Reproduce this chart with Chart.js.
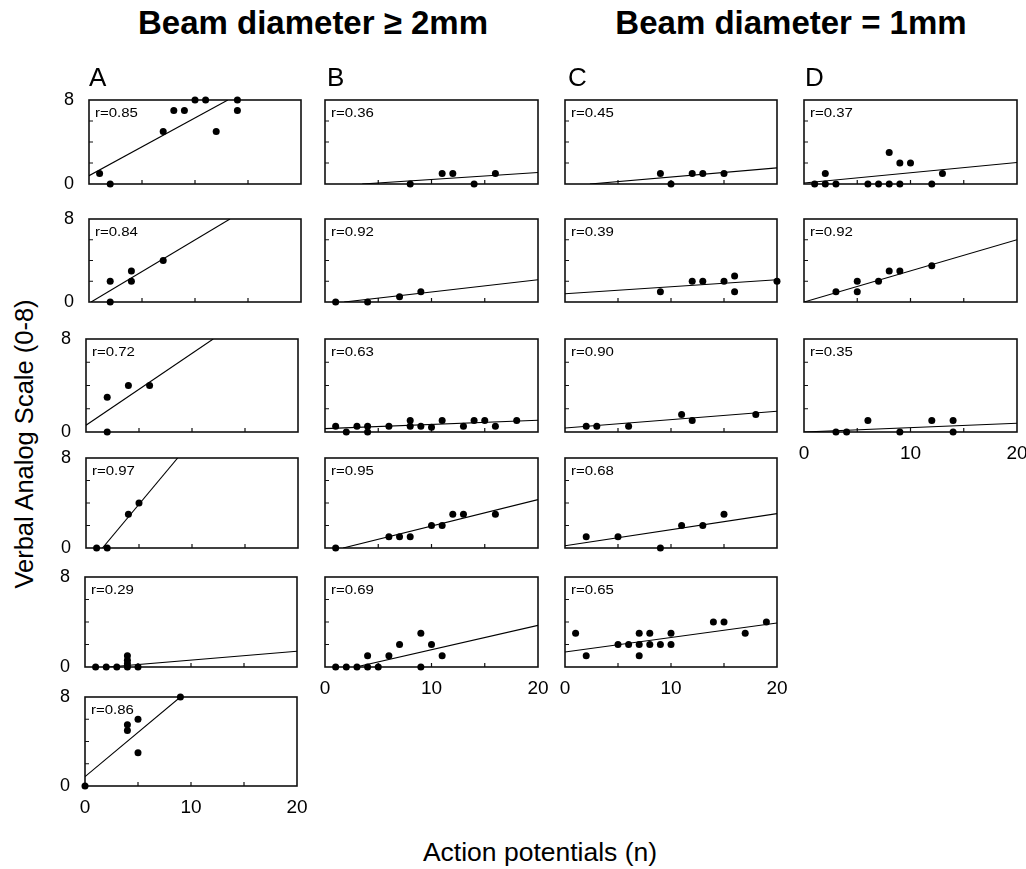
<!DOCTYPE html>
<html><head><meta charset="utf-8">
<script src="https://cdn.jsdelivr.net/npm/chart.js@4.4.1/dist/chart.umd.min.js"></script>
<style>
html,body{margin:0;padding:0;background:#fff;}
#root{position:relative;width:1026px;height:869px;overflow:hidden;background:#fff;font-family:"Liberation Sans",Arial,Helvetica,sans-serif;color:#000;}
.t{position:absolute;white-space:nowrap;line-height:1;}
canvas{position:absolute;}
</style></head><body><div id="root"></div>
<script>
// ---------- tick values ----------
const xTicks = [0, 10, 20];
const yTicks = [0, 8];
const xMinor = [5, 10, 15];
const yMinor = [2, 4, 6];

// ---------- column titles / labels ----------
const groupTitles = ['Beam diameter \u2265 2mm', 'Beam diameter = 1mm'];
const columnLetters = ['A', 'B', 'C', 'D'];
const yTitle = 'Verbal Analog Scale (0-8)';
const xTitle = 'Action potentials (n)';

// ---------- correlation labels ----------
const A_r = ['r=0.85', 'r=0.84', 'r=0.72', 'r=0.97', 'r=0.29', 'r=0.86'];
const B_r = ['r=0.36', 'r=0.92', 'r=0.63', 'r=0.95', 'r=0.69'];
const C_r = ['r=0.45', 'r=0.39', 'r=0.90', 'r=0.68', 'r=0.65'];
const D_r = ['r=0.37', 'r=0.92', 'r=0.35'];

// ---------- data (action potentials x, VAS y) and fitted lines ----------
const A1_x = [1, 2, 7, 8, 9, 10, 11, 12, 14, 14];
const A1_y = [1, 0, 5, 7, 7, 8, 8, 5, 8, 7];
const A1_fitX = [0, 13.1], A1_fitY = [0.79, 8];

const A2_x = [2, 2, 4, 4, 7];
const A2_y = [2, 0, 3, 2, 4];
const A2_fitX = [0.2, 13.3], A2_fitY = [0, 8];

const A3_x = [2, 2, 4, 6];
const A3_y = [3, 0, 4, 4];
const A3_fitX = [0, 12], A3_fitY = [0.58, 8];

const A4_x = [1, 2, 4, 5];
const A4_y = [0, 0, 3, 4];
const A4_fitX = [1.55, 8.65], A4_fitY = [0, 8];

const A5_x = [1, 2, 3, 4, 5, 4, 4, 4];
const A5_y = [0, 0, 0, 0, 0, 1, 0.6, 0.3];
const A5_fitX = [2.2, 20], A5_fitY = [0, 1.4];

const A6_x = [0, 4, 4, 5, 5, 9];
const A6_y = [0, 5.5, 5, 6, 3, 8];
const A6_fitX = [0, 9], A6_fitY = [0.84, 8];

const B1_x = [8, 11, 12, 14, 16];
const B1_y = [0, 1, 1, 0, 1];
const B1_fitX = [3.5, 20], B1_fitY = [0, 1.1];

const B2_x = [1, 4, 7, 9];
const B2_y = [0, 0, 0.5, 1];
const B2_fitX = [1.8, 20], B2_fitY = [0, 2.15];

const B3_x = [1, 2, 3, 4, 4, 6, 8, 8, 9, 10, 11, 13, 14, 15, 16, 18];
const B3_y = [0.5, 0, 0.5, 0.5, 0, 0.5, 1, 0.5, 0.5, 0.4, 1, 0.5, 1, 1, 0.5, 1];
const B3_fitX = [0, 20], B3_fitY = [0.29, 1.01];

const B4_x = [1, 6, 7, 8, 10, 11, 12, 13, 16];
const B4_y = [0, 1, 1, 1, 2, 2, 3, 3, 3];
const B4_fitX = [1.7, 20], B4_fitY = [0, 4.3];

const B5_x = [1, 2, 3, 4, 5, 9, 4, 6, 11, 7, 10, 9];
const B5_y = [0, 0, 0, 0, 0, 0, 1, 1, 1, 2, 2, 3];
const B5_fitX = [2.9, 20], B5_fitY = [0, 3.7];

const C1_x = [9, 10, 12, 13, 15];
const C1_y = [1, 0, 1, 1, 1];
const C1_fitX = [2.35, 20], C1_fitY = [0, 1.54];

const C2_x = [9, 12, 13, 15, 16, 16, 20];
const C2_y = [1, 2, 2, 2, 2.5, 1, 2];
const C2_fitX = [0, 20], C2_fitY = [0.8, 2.15];

const C3_x = [2, 3, 6, 11, 12, 18];
const C3_y = [0.5, 0.5, 0.5, 1.5, 1, 1.5];
const C3_fitX = [0, 20], C3_fitY = [0.34, 1.78];

const C4_x = [2, 5, 9, 11, 13, 15];
const C4_y = [1, 1, 0, 2, 2, 3];
const C4_fitX = [0, 20], C4_fitY = [0.2, 3.06];

const C5_x = [1, 2, 5, 6, 7, 7, 7, 8, 8, 9, 10, 10, 14, 15, 17, 19];
const C5_y = [3, 1, 2, 2, 3, 2, 1, 3, 2, 2, 3, 2, 4, 4, 3, 4];
const C5_fitX = [0, 20], C5_fitY = [1.33, 3.91];

const D1_x = [1, 2, 3, 6, 7, 8, 9, 12, 2, 8, 9, 10, 13];
const D1_y = [0, 0, 0, 0, 0, 0, 0, 0, 1, 3, 2, 2, 1];
const D1_fitX = [0, 20], D1_fitY = [0.1, 2.05];

const D2_x = [3, 5, 5, 7, 8, 9, 12];
const D2_y = [1, 2, 1, 2, 3, 3, 3.5];
const D2_fitX = [0, 20], D2_fitY = [0, 6.0];

const D3_x = [3, 4, 6, 9, 12, 14, 14];
const D3_y = [0, 0, 1, 0, 1, 1, 0];
const D3_fitX = [0, 20], D3_fitY = [0, 0.75];

// ---------- layout (positions only) ----------
const root = document.getElementById('root');
const FONT = '"Liberation Sans", Arial, Helvetica, sans-serif';
const rows = [[100, 84], [219, 83], [339, 93], [458, 90], [577, 90], [697, 89]];
const colLeft = { A: [89, 89, 86, 86, 85, 85], B: 325, C: 565, D: 804 };
const colW = { A: 212, B: 213, C: 212, D: 213 };

function addText(txt, css) {
  const d = document.createElement('div');
  d.className = 't';
  d.textContent = txt;
  Object.assign(d.style, css);
  root.appendChild(d);
  return d;
}

function zeroPad(s) { s.paddingTop = 0; s.paddingBottom = 0; s.paddingLeft = 0; s.paddingRight = 0; }

const framePlugin = {
  id: 'frame',
  beforeDatasetsDraw(chart) {
    const { ctx, chartArea: a, scales } = chart;
    ctx.save();
    ctx.strokeStyle = '#111';
    ctx.lineWidth = 1.6;
    ctx.strokeRect(a.left, a.top, a.right - a.left, a.bottom - a.top);
    ctx.lineWidth = 1.2;
    ctx.beginPath();
    xMinor.forEach(v => {
      const px = scales.x.getPixelForValue(v);
      ctx.moveTo(px, a.bottom); ctx.lineTo(px, a.bottom - 4);
    });
    yMinor.forEach(v => {
      const py = scales.y.getPixelForValue(v);
      ctx.moveTo(a.left, py); ctx.lineTo(a.left + 4, py);
    });
    ctx.stroke();
    ctx.restore();
  }
};

function makePanel(p) {
  const mL = 40, mT = 14, mR = 16, mB = p.showX ? 38 : 14;
  const cw = p.w + mL + mR, ch = p.h + mT + mB;
  const cv = document.createElement('canvas');
  cv.width = cw; cv.height = ch;
  cv.style.left = (p.l - mL) + 'px'; cv.style.top = (p.t - mT) + 'px';
  cv.style.width = cw + 'px'; cv.style.height = ch + 'px';
  root.appendChild(cv);
  new Chart(cv, {
    type: 'scatter',
    data: {
      datasets: [
        { data: p.x.map((v, i) => ({ x: v, y: p.y[i] })), pointRadius: 3.5, pointHoverRadius: 3.5,
          backgroundColor: '#000', borderWidth: 0, clip: false },
        { data: p.fx.map((v, i) => ({ x: v, y: p.fy[i] })), showLine: true, pointRadius: 0,
          borderColor: '#000', borderWidth: 1.1, clip: 0 }
      ]
    },
    options: {
      responsive: false, animation: false, devicePixelRatio: 1, events: [],
      layout: { padding: { left: 0, top: mT, right: mR, bottom: 0 } },
      plugins: { legend: { display: false }, tooltip: { enabled: false } },
      scales: {
        x: {
          type: 'linear', min: 0, max: 20, display: p.showX,
          afterBuildTicks: s => { s.ticks = xTicks.map(v => ({ value: v })); },
          afterFit: s => { s.height = mB; zeroPad(s); },
          ticks: { font: { size: 19, family: FONT }, color: '#000', padding: 10, maxRotation: 0, autoSkip: false },
          grid: { display: false, drawTicks: false }, border: { display: false }
        },
        y: {
          type: 'linear', min: 0, max: 8, display: p.showY,
          afterBuildTicks: s => { s.ticks = yTicks.map(v => ({ value: v })); },
          afterFit: s => { s.width = mL; zeroPad(s); },
          ticks: { font: { size: 18, family: FONT }, color: '#000', padding: 15, autoSkip: false },
          grid: { display: false, drawTicks: false }, border: { display: false }
        }
      }
    },
    plugins: [framePlugin]
  });
  addText(p.r, { left: (p.l + 6) + 'px', top: (p.t + 7) + 'px', fontSize: '12.5px',
    transform: 'scaleX(1.2)', transformOrigin: 'left top' });
}

const panelData = {
  A: [[A1_x, A1_y, A1_fitX, A1_fitY], [A2_x, A2_y, A2_fitX, A2_fitY], [A3_x, A3_y, A3_fitX, A3_fitY],
      [A4_x, A4_y, A4_fitX, A4_fitY], [A5_x, A5_y, A5_fitX, A5_fitY], [A6_x, A6_y, A6_fitX, A6_fitY]],
  B: [[B1_x, B1_y, B1_fitX, B1_fitY], [B2_x, B2_y, B2_fitX, B2_fitY], [B3_x, B3_y, B3_fitX, B3_fitY],
      [B4_x, B4_y, B4_fitX, B4_fitY], [B5_x, B5_y, B5_fitX, B5_fitY]],
  C: [[C1_x, C1_y, C1_fitX, C1_fitY], [C2_x, C2_y, C2_fitX, C2_fitY], [C3_x, C3_y, C3_fitX, C3_fitY],
      [C4_x, C4_y, C4_fitX, C4_fitY], [C5_x, C5_y, C5_fitX, C5_fitY]],
  D: [[D1_x, D1_y, D1_fitX, D1_fitY], [D2_x, D2_y, D2_fitX, D2_fitY], [D3_x, D3_y, D3_fitX, D3_fitY]]
};
const rLabels = { A: A_r, B: B_r, C: C_r, D: D_r };

Object.keys(panelData).forEach(col => {
  const list = panelData[col];
  list.forEach((d, i) => {
    const l = Array.isArray(colLeft[col]) ? colLeft[col][i] : colLeft[col];
    makePanel({
      l, t: rows[i][0], w: colW[col], h: rows[i][1],
      x: d[0], y: d[1], fx: d[2], fy: d[3], r: rLabels[col][i],
      showY: col === 'A', showX: i === list.length - 1
    });
  });
});

// ---------- texts ----------
const titleSize = 33;
addText(groupTitles[0], { left: '113px', width: '400px', textAlign: 'center', top: (10 - 0.13 * titleSize) + 'px',
  fontSize: titleSize + 'px', fontWeight: 'bold' });
addText(groupTitles[1], { left: '591px', width: '400px', textAlign: 'center', top: (10 - 0.13 * titleSize) + 'px',
  fontSize: titleSize + 'px', fontWeight: 'bold' });
const letterX = [89, 327, 568, 805];
columnLetters.forEach((c, i) => addText(c, { left: letterX[i] + 'px', top: (67 - 0.13 * 26) + 'px', fontSize: '26px' }));
addText(yTitle, { left: (25 - 250) + 'px', top: (444 - 13) + 'px', width: '500px', textAlign: 'center',
  fontSize: '25.5px', height: '26px', transform: 'rotate(-90deg)', transformOrigin: '50% 50%' });
addText(xTitle, { left: '340px', width: '400px', textAlign: 'center', top: (842 - 0.13 * 26.5) + 'px', fontSize: '26.5px' });
</script></body></html>
